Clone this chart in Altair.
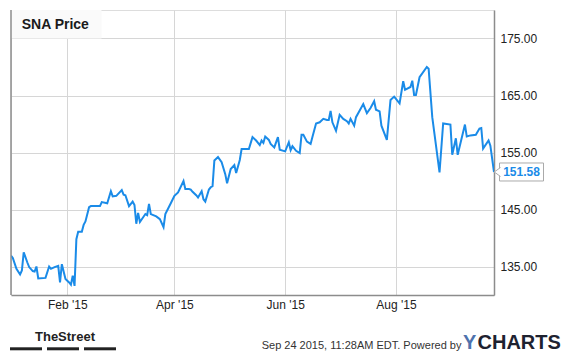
import altair as alt
import pandas as pd

dates = [
    "2015-01-01", "2015-01-02", "2015-01-04", "2015-01-06", "2015-01-07", "2015-01-08",
    "2015-01-10", "2015-01-11", "2015-01-13", "2015-01-14", "2015-01-15", "2015-01-16",
    "2015-01-20", "2015-01-22", "2015-01-23", "2015-01-25", "2015-01-27", "2015-01-28",
    "2015-01-29", "2015-01-31", "2015-02-02", "2015-02-03", "2015-02-04", "2015-02-05",
    "2015-02-06", "2015-02-07", "2015-02-09", "2015-02-10", "2015-02-11", "2015-02-13",
    "2015-02-14", "2015-02-19", "2015-02-20", "2015-02-23", "2015-02-25", "2015-02-26",
    "2015-02-28", "2015-03-03", "2015-03-04", "2015-03-05", "2015-03-07", "2015-03-09",
    "2015-03-10", "2015-03-11", "2015-03-12", "2015-03-13", "2015-03-16", "2015-03-17",
    "2015-03-18", "2015-03-19", "2015-03-22", "2015-03-24", "2015-03-26", "2015-03-27",
    "2015-03-30", "2015-04-01", "2015-04-03", "2015-04-06", "2015-04-07", "2015-04-09",
    "2015-04-10", "2015-04-11", "2015-04-13", "2015-04-14", "2015-04-16", "2015-04-17",
    "2015-04-18", "2015-04-20", "2015-04-21", "2015-04-22", "2015-04-23", "2015-04-25",
    "2015-04-27", "2015-04-29", "2015-04-30", "2015-05-02", "2015-05-04", "2015-05-05",
    "2015-05-07", "2015-05-08", "2015-05-12", "2015-05-14", "2015-05-16", "2015-05-18",
    "2015-05-19", "2015-05-20", "2015-05-21", "2015-05-23", "2015-05-24", "2015-05-26",
    "2015-05-28", "2015-05-29", "2015-06-01", "2015-06-03", "2015-06-04", "2015-06-05",
    "2015-06-07", "2015-06-09", "2015-06-10", "2015-06-11", "2015-06-13", "2015-06-15",
    "2015-06-16", "2015-06-18", "2015-06-20", "2015-06-22", "2015-06-24", "2015-06-25",
    "2015-06-26", "2015-06-27", "2015-06-29", "2015-07-01", "2015-07-03", "2015-07-05",
    "2015-07-06", "2015-07-07", "2015-07-09", "2015-07-10", "2015-07-14", "2015-07-16",
    "2015-07-18", "2015-07-20", "2015-07-21", "2015-07-23", "2015-07-24", "2015-07-27",
    "2015-07-29", "2015-07-31", "2015-08-03", "2015-08-05", "2015-08-06", "2015-08-09",
    "2015-08-10", "2015-08-11", "2015-08-12", "2015-08-14", "2015-08-18", "2015-08-19",
    "2015-08-21", "2015-08-25", "2015-08-27", "2015-08-31", "2015-09-01", "2015-09-03",
    "2015-09-04", "2015-09-08", "2015-09-09", "2015-09-11", "2015-09-14", "2015-09-16",
    "2015-09-17", "2015-09-18", "2015-09-21", "2015-09-22", "2015-09-24",
]

prices = [
    136.9, 136.5, 134.6, 133.6, 134.3, 137.5,
    135.7, 134.9, 134.2, 134.1, 135.0, 132.9,
    133.0, 135.0, 134.6, 134.9, 135.1, 132.2,
    135.4, 132.8, 132.2, 131.8, 133.4, 131.6,
    139.8, 141.1, 141.1, 142.3, 142.9, 145.4,
    145.6, 145.6, 146.3, 146.1, 148.2, 147.3,
    147.4, 148.4, 147.6, 147.5, 145.6, 146.4,
    145.8, 142.5, 144.4, 142.8, 144.2, 144.0,
    146.0, 144.2, 143.8, 143.3, 141.9, 144.2,
    146.1, 147.4, 148.0, 150.0, 148.6, 148.6,
    148.5, 148.1, 147.5, 147.1, 148.2, 146.8,
    146.4, 148.5, 148.9, 149.1, 153.6, 154.2,
    153.3, 151.2, 149.6, 152.1, 152.8, 151.4,
    153.7, 155.6, 155.6, 157.7, 157.1, 156.3,
    157.1, 156.7, 157.8, 157.2, 156.5, 155.9,
    157.7, 155.5, 155.2, 156.8, 155.4, 156.1,
    155.3, 154.9, 158.1, 158.1, 156.9, 156.5,
    157.7, 160.1, 160.3, 160.9, 160.7, 160.7,
    162.3, 160.3, 158.8, 161.6, 160.9, 160.5,
    160.1, 160.9, 159.7, 161.2, 163.5, 161.9,
    162.8, 164.0, 162.5, 162.2, 159.7, 157.2,
    164.2, 164.8, 163.6, 167.5, 166.0, 166.5,
    167.6, 165.1, 165.1, 168.2, 170.0, 169.7,
    161.2, 151.5, 160.1, 159.9, 154.6, 157.5,
    154.6, 159.9, 157.8, 158.0, 158.1, 159.2,
    159.3, 155.7, 157.1, 156.2, 151.58,
]

y_ticks = [135, 145, 155, 165, 175]
x_tick_months = [2, 4, 6, 8]
title_text = "SNA Price"
footer_text = "Sep 24 2015, 11:28AM EDT. Powered by"

df = pd.DataFrame({"date": dates, "price": prices})
last = df.iloc[[-1]].copy()
last["label"] = [f"{p:.2f}" for p in last["price"]]
dummy = pd.DataFrame({"k": [0]})

W, H = 483, 285
FONT = "Liberation Sans"
LINE = "#1a8be8"

x_enc = alt.X(
    "date:T",
    scale=alt.Scale(
        type="utc",
        domain=[alt.DateTime(year=2015, month=1, date=1, utc=True),
                alt.DateTime(year=2015, month=9, date=24, utc=True)],
    ),
    axis=alt.Axis(
        values=[alt.DateTime(year=2015, month=m, date=1, utc=True) for m in x_tick_months],
        format="%b '%y", title=None, ticks=False, tickSize=0, labelPadding=4,
        labelFontSize=12, labelColor="#222", labelFont=FONT,
        domainColor="#8c8c8c", domainWidth=1.5, gridColor="#d6d6d6",
        labelFlush=False, labelOverlap=False,
    ),
)
y_enc = alt.Y(
    "price:Q",
    scale=alt.Scale(domain=[130, 180], zero=False, nice=False),
    axis=alt.Axis(
        orient="right", values=y_ticks, format=".2f", title=None, ticks=False,
        tickSize=0, labelPadding=6, labelFontSize=12, labelColor="#222",
        labelFont=FONT, domainColor="#8c8c8c", domainWidth=1.5, gridColor="#d6d6d6",
    ),
)

title_box = alt.Chart(dummy).mark_rect(fill="#fafafa", stroke=None).encode(
    x=alt.value(0), x2=alt.value(90.5), y=alt.value(0), y2=alt.value(28.5)
)
title = alt.Chart(dummy).mark_text(
    text=title_text, font=FONT, fontSize=14, fontWeight="bold", color="#1a1a1a",
    align="left", baseline="alphabetic",
).encode(x=alt.value(10.7), y=alt.value(19))

line = alt.Chart(df).mark_line(color=LINE, strokeWidth=2, clip=True).encode(x=x_enc, y=y_enc)

left_border = alt.Chart(dummy).mark_rule(color="#8c8c8c", strokeWidth=1.5).encode(
    x=alt.value(0), y=alt.value(0), y2=alt.value(H)
)

box = alt.Chart(last).mark_rect(
    fill="white", stroke="#aaaaaa", strokeWidth=1,
    xOffset=5.5, x2Offset=49.5, yOffset=-9, y2Offset=9,
).encode(x=x_enc, x2="date:T", y=y_enc, y2="price:Q")
arrow = alt.Chart(last).mark_point(
    shape="M 0.69 -1 L -0.69 0 L 0.69 1", size=81, filled=True, fill="white",
    stroke="#aaaaaa", strokeWidth=1, opacity=1, xOffset=3.4,
).encode(x=x_enc, y=y_enc)
last_label = alt.Chart(last).mark_text(
    font=FONT, fontSize=12, fontWeight="bold", color=LINE, align="center",
    baseline="middle", dx=27.5,
).encode(x=x_enc, y=y_enc, text="label:N")

street = alt.Chart(dummy).mark_text(
    text="TheStreet", font=FONT, fontSize=13, fontWeight="bold",
    color="#222", align="left", baseline="alphabetic",
).encode(x=alt.value(24), y=alt.value(331))
bars = [
    alt.Chart(dummy).mark_rule(color="#222", strokeWidth=3).encode(
        x=alt.value(a), x2=alt.value(a + 32), y=alt.value(338.8)
    )
    for a in (-1, 36, 73)
]
footer = alt.Chart(dummy).mark_text(
    text=footer_text, font=FONT, fontSize=11, color="#333", align="left",
    baseline="alphabetic",
).encode(x=alt.value(250.7), y=alt.value(338.5))
ylogo = alt.Chart(dummy).mark_text(
    text="Y", font=FONT, fontSize=20, fontWeight="bold", color="#4e72ad",
    align="left", baseline="alphabetic",
).encode(x=alt.value(452), y=alt.value(339))
clogo = alt.Chart(dummy).mark_text(
    text="CHARTS", font=FONT, fontSize=20, fontWeight="bold", color="#1e2230",
    align="left", baseline="alphabetic",
).encode(x=alt.value(466.5), y=alt.value(339))

chart = alt.layer(
    title_box, title, line, left_border, box, arrow, last_label,
    street, *bars, footer, ylogo, clogo,
).properties(
    width=W, height=H,
    autosize=alt.AutoSizeParams(type="none"),
    padding={"left": 3, "top": 2, "right": 73, "bottom": 58},
    background="white",
).configure_view(
    fill="#f6f6f6", stroke="#d0d0d0", strokeWidth=1,
).configure(font=FONT)

chart.save("out.html", embed_options={"renderer": "svg", "actions": False})
